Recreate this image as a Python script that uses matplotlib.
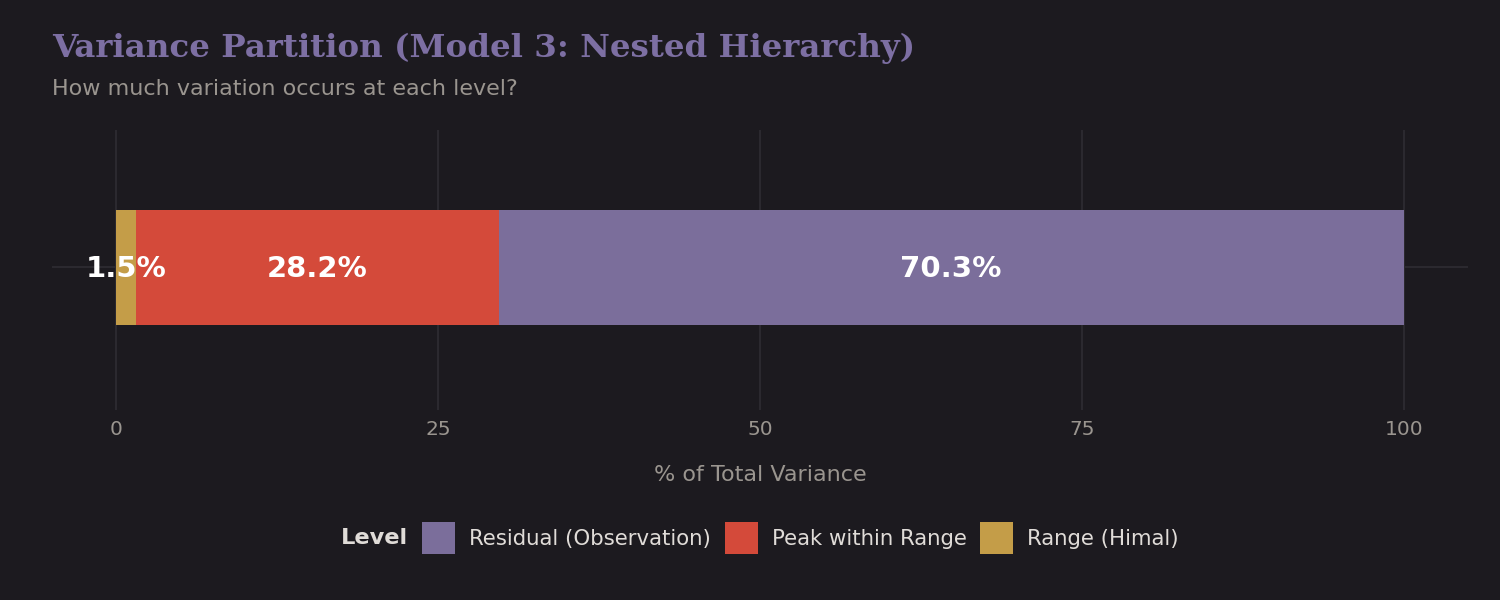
import matplotlib
matplotlib.use("Agg")
import matplotlib.pyplot as plt
from matplotlib.patches import Patch

plt.rcParams["font.family"] = ["DejaVu Sans"]

# Data
levels = ["Range (Himal)", "Peak within Range", "Residual (Observation)"]
shares = [1.5, 28.2, 70.3]
colors = {"Range (Himal)": "#c49d48", "Peak within Range": "#d44a3a", "Residual (Observation)": "#7b6e9b"}
legend_order = ["Residual (Observation)", "Peak within Range", "Range (Himal)"]
xticks = [0, 25, 50, 75, 100]

BG = "#1c1a1f"
GRID = "#2d2b31"

fig = plt.figure(figsize=(15, 6), dpi=100, facecolor=BG)
ax = fig.add_axes([52/1500, 1-410/600, (1468-52)/1500, 280/600])
ax.set_facecolor(BG)

left = 0
for lev, val in zip(levels, shares):
    ax.barh(0, val, left=left, height=0.5, color=colors[lev], zorder=3)
    ax.text(left + val/2, -0.008, f"{val:.1f}%", ha="center", va="center",
            color="white", fontsize=21, fontweight="bold", zorder=4)
    left += val

ax.set_xlim(-5, 105)
ax.set_ylim(-0.62, 0.598)
ax.set_xticks(xticks)
ax.set_xticklabels([str(t) for t in xticks])
ax.set_yticks([0])
ax.set_yticklabels([""])
ax.grid(True, color=GRID, linewidth=1.3, zorder=0)
ax.tick_params(length=0, colors="#9a958f", labelsize=14.5, pad=7)
for s in ax.spines.values():
    s.set_visible(False)
ax.set_xlabel("% of Total Variance", color="#9a958f", fontsize=16, labelpad=19)

fig.text(52/1500, 1-48/600, "Variance Partition (Model 3: Nested Hierarchy)", family="DejaVu Serif",
         fontweight="bold", fontsize=23.4, color="#7d6fa3", ha="left", va="center")
fig.text(52/1500, 1-89/600, "How much variation occurs at each level?", fontsize=16,
         color="#9a958f", ha="left", va="center")

handles = [Patch(facecolor=colors[l], edgecolor="none") for l in legend_order]
leg = fig.legend(handles, legend_order, ncol=3, loc="center", bbox_to_anchor=(800.5/1500, 1-538/600),
                 frameon=False, fontsize=15.3, labelcolor="#e0dcd8", handlelength=1.54, handleheight=2.0,
                 handletextpad=0.66, columnspacing=0.66, borderpad=0, borderaxespad=0)
fig.canvas.draw()
bb = leg.get_window_extent()
fig.text((bb.x0 - 14) / 1500, 1-538/600, "Level", fontsize=16.2, fontweight="bold", color="#e0dcd8",
         ha="right", va="center")

fig.savefig("out.png", dpi=100, facecolor=BG)
